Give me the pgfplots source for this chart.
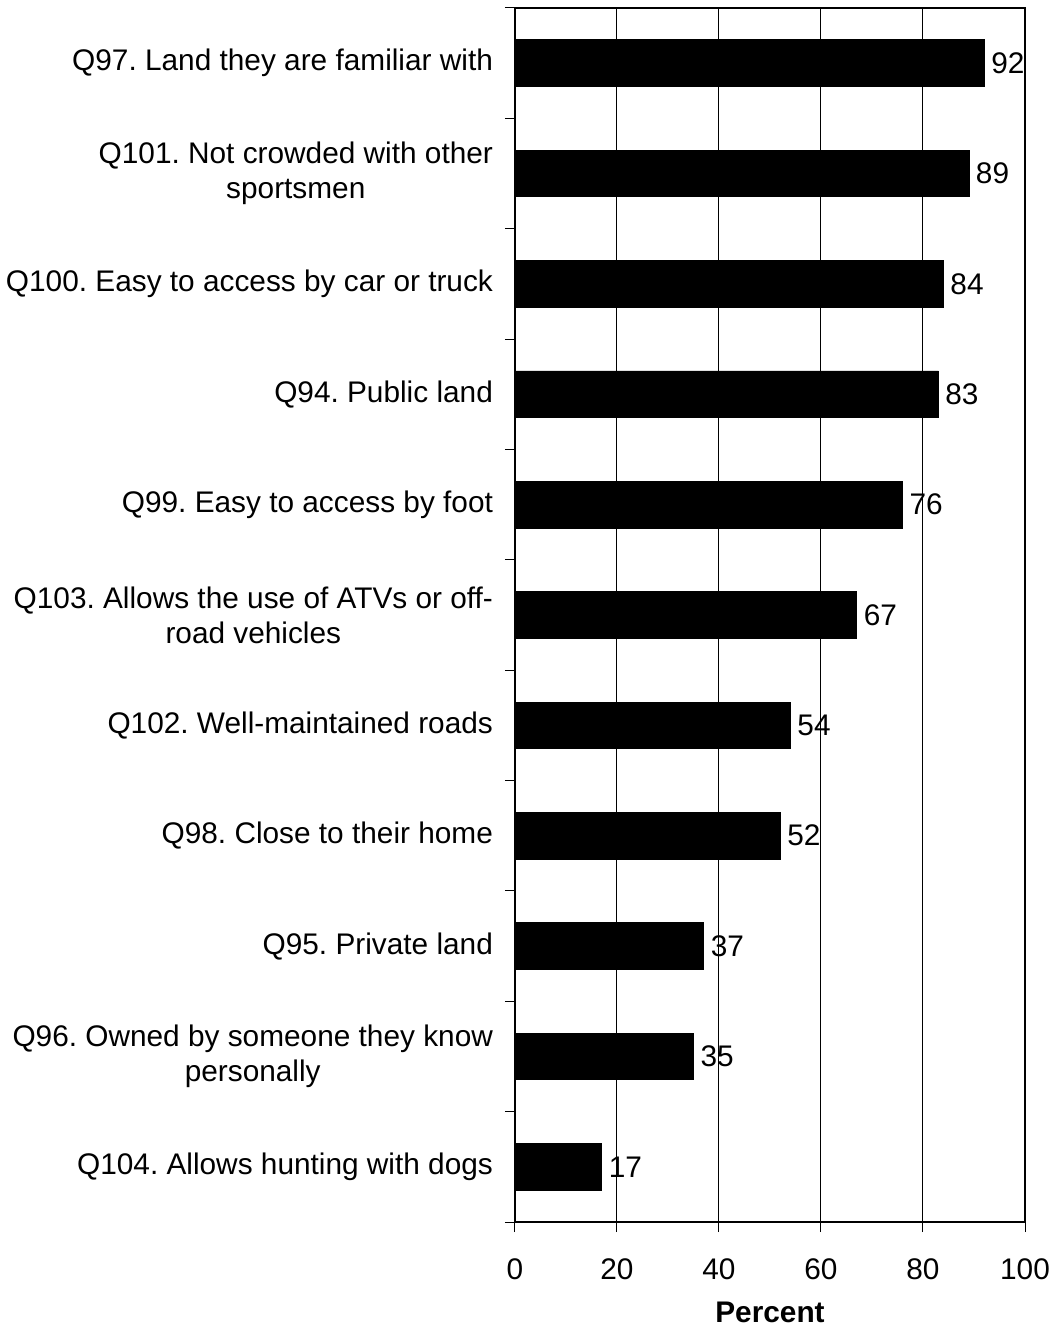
\documentclass[border=0pt]{standalone}
\usepackage{fontspec}
\setmainfont{Liberation Sans}
\usepackage{pgfplots}
\pgfplotsset{compat=1.18}
\begin{document}
\frenchspacing
\begin{tikzpicture}
\begin{axis}[
    scale only axis,
    width=255pt, height=607pt,
    at={(0,0)}, anchor=south west,
    xbar, bar width=23.3pt,
    xmin=0, xmax=100,
    ymin=0.5, ymax=11.5,
    y dir=reverse,
    axis line style={line width=1pt},
    tick align=outside,
    xtick pos=bottom, ytick pos=left,
    xtick={0,20,...,100},
    major tick length=5pt,
    ytick={1,...,11},
    ytick style={draw=none},
    extra y ticks={0.5,1.5,...,11.5},
    extra y tick labels={},
    extra y tick style={ytick style={draw=black, line width=0.5pt}},
    xtick style={line width=0.5pt, black},
    xmajorgrids,
    major grid style={black, line width=0.5pt},
    yticklabels={
      {Q97. Land they are familiar with},
      {Q101. Not crowded with other\\sportsmen},
      {Q100. Easy to access by car or truck},
      {Q94. Public land},
      {Q99. Easy to access by foot},
      {Q103. Allows the use of ATVs or off-\\road vehicles},
      {Q102. Well-maintained roads},
      {Q98. Close to their home},
      {Q95. Private land},
      {Q96. Owned by someone they know\\personally},
      {Q104. Allows hunting with dogs}},
    yticklabel style={align=center, xshift=-2.5pt, font=\fontsize{14.9}{17.5}\selectfont},
    xticklabel style={yshift=-10pt, font=\fontsize{14.9}{17.5}\selectfont},
    /pgf/number format/assume math mode=true,
    xlabel={\textbf{Percent}},
    xlabel style={font=\fontsize{14.9}{17.5}\selectfont, yshift=-4pt},
    nodes near coords,
    nodes near coords align={horizontal},
    every node near coord/.append style={font=\fontsize{14.9}{17.5}\selectfont, black, xshift=0pt},
]
\addplot[fill=black, draw=black] coordinates {
  (92,1) (89,2) (84,3) (83,4) (76,5) (67,6) (54,7) (52,8) (37,9) (35,10) (17,11)
};
\end{axis}
\pgfresetboundingbox
\path (-257.5pt,-55pt) rectangle (270pt,611pt);
\end{tikzpicture}
\end{document}
